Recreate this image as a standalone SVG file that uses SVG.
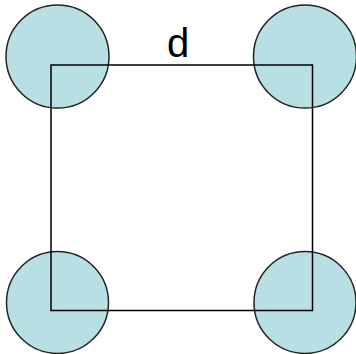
<svg xmlns="http://www.w3.org/2000/svg" width="356" height="354" viewBox="0 0 356 354">
<style>
.c{fill:#b8dfe3;stroke:#222;stroke-width:1.5}
.e{fill:none;stroke:#000;stroke-width:1.5}
.t{font-family:"Liberation Sans",Arial,sans-serif;font-size:40px;fill:#000}
</style>
<rect width="356" height="354" fill="#fff"/>
<g id="n1"><circle class="c" cx="57.5" cy="56.5" r="51.5"/></g>
<g id="n2"><circle class="c" cx="305" cy="56.5" r="51.5"/></g>
<g id="n3"><circle class="c" cx="57.5" cy="302.5" r="51"/></g>
<g id="n4"><circle class="c" cx="305" cy="302.5" r="51"/></g>
<g id="edges"><rect class="e" x="51" y="65" width="261.5" height="245.5"/></g>
<text class="t" x="178" y="56.5" text-anchor="middle">d</text>
</svg>
